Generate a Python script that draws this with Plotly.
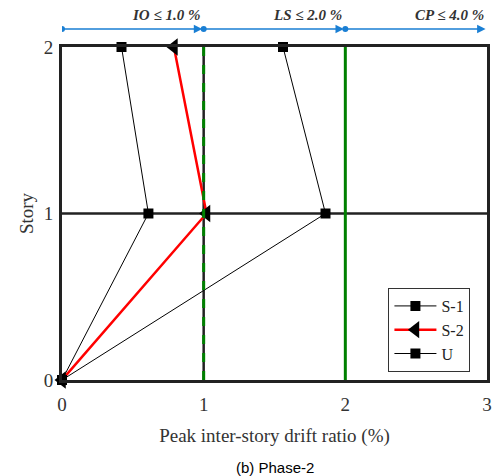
import plotly.graph_objects as go

story = [0, 1, 2]
s1_drift = [0, 0.61, 0.42]
s2_drift = [0, 1.02, 0.79]
u_drift = [0, 1.86, 1.56]
limits = [1.0, 2.0, 4.0]
limit_labels = ["IO ≤ 1.0 %", "LS ≤ 2.0 %", "CP ≤ 4.0 %"]
xticks = [0, 1, 2, 3]
yticks = [0, 1, 2]

serif = "Liberation Serif"
fig = go.Figure()
fig.add_trace(go.Scatter(x=s1_drift, y=story, name="S-1", mode="lines+markers",
                         line=dict(color="black", width=1),
                         marker=dict(symbol="square", size=10, color="black"), cliponaxis=False))
fig.add_trace(go.Scatter(x=s2_drift, y=story, name="S-2", mode="lines+markers",
                         line=dict(color="red", width=2.5),
                         marker=dict(symbol="triangle-left", size=15, color="black"), cliponaxis=False))
fig.add_trace(go.Scatter(x=u_drift, y=story, name="U", mode="lines+markers",
                         line=dict(color="black", width=1),
                         marker=dict(symbol="square", size=10, color="black"), cliponaxis=False))

shapes = []
shapes.append(dict(type="line", xref="x", yref="y", x0=0, x1=3, y0=1, y1=1,
                   line=dict(color="#222", width=2.5), layer="below"))
shapes.append(dict(type="line", xref="x", yref="y", x0=1, x1=1, y0=0, y1=2,
                   line=dict(color="#222", width=2.5), layer="below"))
shapes.append(dict(type="line", xref="x", yref="y", x0=1, x1=1, y0=0, y1=2,
                   line=dict(color="green", width=3, dash="dash"), layer="above"))
shapes.append(dict(type="line", xref="x", yref="y", x0=2, x1=2, y0=0, y1=2,
                   line=dict(color="green", width=3), layer="above"))

blue = "#1a7fd4"
ya = 1.054
annotations = []
starts = [0, 1, 2]
ends = [1, 2, 3]
for s, e, lab in zip(starts, ends, limit_labels):
    shapes.append(dict(type="circle", xref="x", yref="paper", xsizemode="pixel", ysizemode="pixel",
                       xanchor=s, yanchor=ya, x0=-3, x1=3, y0=-3, y1=3,
                       fillcolor=blue, line=dict(width=0)))
    annotations.append(dict(x=e - 0.01, y=ya, xref="x", yref="paper", ax=s, ay=0,
                            axref="x", ayref="pixel", showarrow=True, arrowhead=2,
                            arrowsize=1.3, arrowwidth=1.3, arrowcolor=blue, text=""))
    annotations.append(dict(x=e - 0.01, y=1.096, xref="x", yref="paper", xanchor="right",
                            yanchor="middle", showarrow=False,
                            text="<b><i>" + lab + "</i></b>",
                            font=dict(family=serif, size=15, color="#333")))
annotations.append(dict(x=0.5, y=-0.262, xref="paper", yref="paper", showarrow=False,
                        xanchor="center", yanchor="middle", text="(b) Phase-2",
                        font=dict(family="Liberation Sans", size=15, color="black")))

fig.update_layout(
    width=499, height=476,
    margin=dict(l=62, r=7, t=47, b=96),
    plot_bgcolor="white", paper_bgcolor="white",
    shapes=shapes, annotations=annotations,
    font=dict(family=serif, color="#333"),
    legend=dict(x=0.961, y=0.024, xanchor="right", yanchor="bottom",
                bordercolor="#333", borderwidth=1, bgcolor="white",
                font=dict(family=serif, size=16, color="#222"),
                tracegroupgap=0, itemwidth=42),
    xaxis=dict(range=[0, 3], tickvals=xticks, showgrid=False, zeroline=False,
               showline=True, mirror=True, linecolor="#222", linewidth=3,
               ticks="outside", ticklen=5, tickcolor="rgba(0,0,0,0)",
               tickfont=dict(family=serif, size=19, color="#333"),
               title=dict(text="Peak inter-story drift ratio (%)", font=dict(family=serif, size=19, color="#333"), standoff=15)),
    yaxis=dict(range=[0, 2], tickvals=yticks, showgrid=False, zeroline=False,
               showline=True, mirror=True, linecolor="#222", linewidth=3,
               ticks="outside", ticklen=2, tickcolor="rgba(0,0,0,0)",
               tickfont=dict(family=serif, size=19, color="#333"),
               title=dict(text="Story", font=dict(family=serif, size=19, color="#333"), standoff=6)),
)
fig.write_html("out.html", config={"displayModeBar": False},
               post_script="document.body.style.margin='0';document.body.style.overflow='hidden';")
